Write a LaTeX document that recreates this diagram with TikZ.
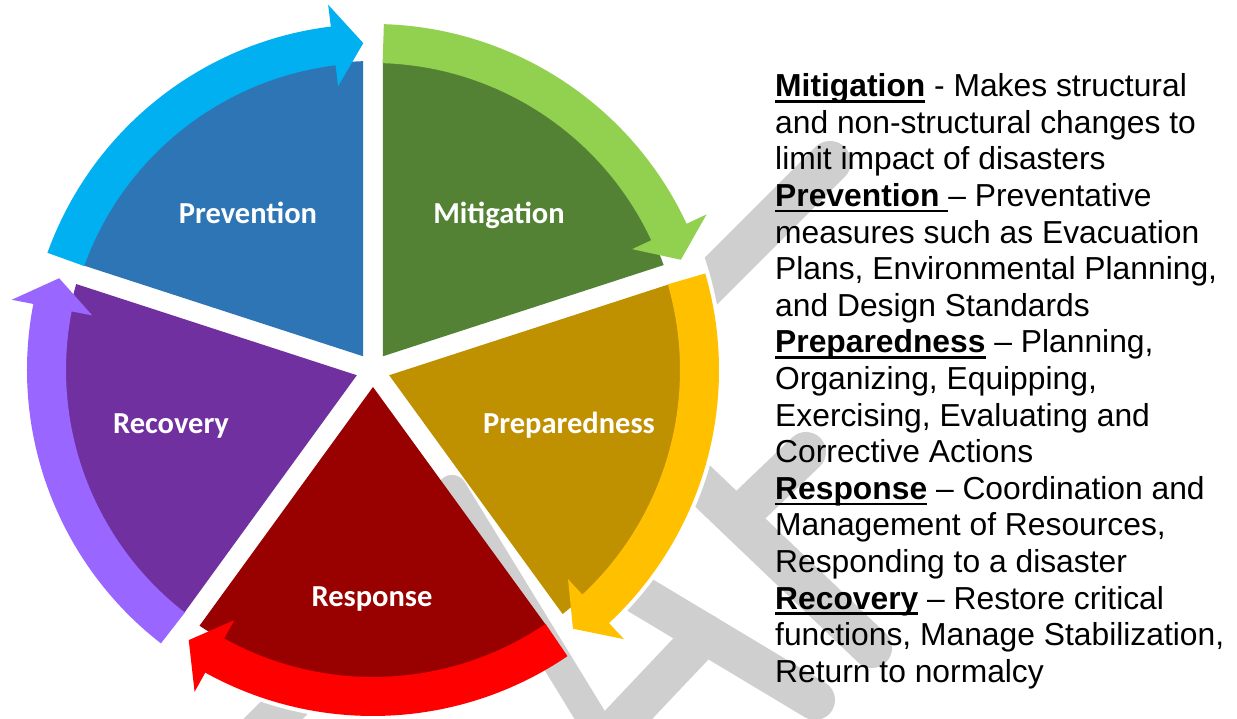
\documentclass[tikz,border=0pt]{standalone}
\usepackage{fontspec}
\setmainfont{Liberation Sans}
\newfontfamily\labfont{Carlito}
\usetikzlibrary{calc}
\definecolor{prevD}{HTML}{2E75B6}
\definecolor{prevA}{HTML}{00B0F0}
\definecolor{mitD}{HTML}{548235}
\definecolor{mitA}{HTML}{92D050}
\definecolor{prepD}{HTML}{BF9000}
\definecolor{prepA}{HTML}{FFC000}
\definecolor{respD}{HTML}{990000}
\definecolor{respA}{HTML}{FF0000}
\definecolor{recD}{HTML}{7030A0}
\definecolor{recA}{HTML}{9966FF}
\definecolor{wmgray}{HTML}{CFCFCF}
\newcommand\ulhd[1]{\setbox0=\hbox{\bfseries #1}\rlap{\rule[-6pt]{\wd0}{2.7pt}}\box0\relax}
% sector: #1 high angle, #2 low angle, #3 dark colour
\newcommand\sectorpiece[3]{%
  \pgfmathsetmacro\secMid{(#1+#2)/2}%
  \pgfmathsetmacro\secS{#2+1.85}%
  \pgfmathsetmacro\secE{#1-1.85}%
  \fill[#3] ($(C)+(\secMid:17)$) -- ($(C)+(\secS:309)$) arc[start angle=\secS, end angle=\secE, radius=309] -- cycle;}
% arrow band: #1 high angle, #2 low angle, #3 colour
\newcommand\arrowpiece[3]{%
  \pgfmathsetmacro\arT{#1-1.8}%
  \pgfmathsetmacro\arB{#2+7}%
  \pgfmathsetmacro\arP{#2+1.7}%
  \fill[#3] ($(C)+(\arT:346)$) arc[start angle=\arT, end angle=\arB, radius=346]
    -- ($(C)+(\arB:368)$) -- ($(C)+(\arP:327)$) -- ($(C)+(\arB:286)$)
    -- ($(C)+(\arB:307)$) arc[start angle=\arB, end angle=\arT, radius=307] -- cycle;}
\begin{document}
\begin{tikzpicture}[x=1pt,y=1pt,
  lab/.style={text=white, font=\labfont\bfseries\fontsize{30.5}{30.5}\selectfont, anchor=base, inner sep=0pt},
  txt/.style={anchor=base west, inner sep=0pt, font=\fontsize{31.8}{36.6}\selectfont, text=black},
  wm/.style={draw=wmgray, line width=40pt, line cap=round}]
\useasboundingbox (0,0) rectangle (1237,719);
\clip (0,0) rectangle (1237,719);
\fill[white] (0,0) rectangle (1237,719);
\coordinate (C) at (373,349);
% watermark strokes
\draw[wm, line width=42pt] (830,557) -- (240,-33);
\draw[wm] (670,264) -- (872,71);
\draw[wm] (740,204) -- (806,267);
\draw[wm] (590,154) -- (815,19);
\draw[wm] (705,85) -- (600,-26);
\fill[white] (C) circle[radius=350];
\draw[wm, line width=30pt] (452,229) -- (608,-26);
% wheel
\sectorpiece{90}{18}{mitD}
\sectorpiece{18}{-54}{prepD}
\sectorpiece{-54}{-126}{respD}
\sectorpiece{-126}{-198}{recD}
\sectorpiece{162}{90}{prevD}
\arrowpiece{90}{18}{mitA}
\arrowpiece{18}{-54}{prepA}
\arrowpiece{-54}{-126}{respA}
\arrowpiece{-126}{-198}{recA}
\arrowpiece{162}{90}{prevA}
% labels
\node[lab] (lprev) at (248,495) {Prevention};
\node[lab] (lmit) at (499,495) {Mitigation};
\node[lab] (lprep) at (569,285) {Preparedness};
\node[lab] (lresp) at (372,112) {Response};
\node[lab] (lrec) at (171,285) {Recovery};
% description text
\foreach \i/\t in {
 1/{\ulhd{Mitigation} - Makes structural},
 2/{and non-structural changes to},
 3/{limit impact of disasters},
 4/{\ulhd{Prevention\ }– Preventative},
 5/{measures such as Evacuation},
 6/{Plans, Environmental Planning,},
 7/{and Design Standards},
 8/{\ulhd{Preparedness} – Planning,},
 9/{Organizing, Equipping,},
 10/{Exercising, Evaluating and},
 11/{Corrective Actions},
 12/{\ulhd{Response} – Coordination and},
 13/{Management of Resources,},
 14/{Responding to a disaster},
 15/{\ulhd{Recovery} – Restore critical},
 16/{functions, Manage Stabilization,},
 17/{Return to normalcy}}
 {\node[txt] (t\i) at (775,{622.3-36.6*(\i-1)}) {\t};}
\end{tikzpicture}
\end{document}
